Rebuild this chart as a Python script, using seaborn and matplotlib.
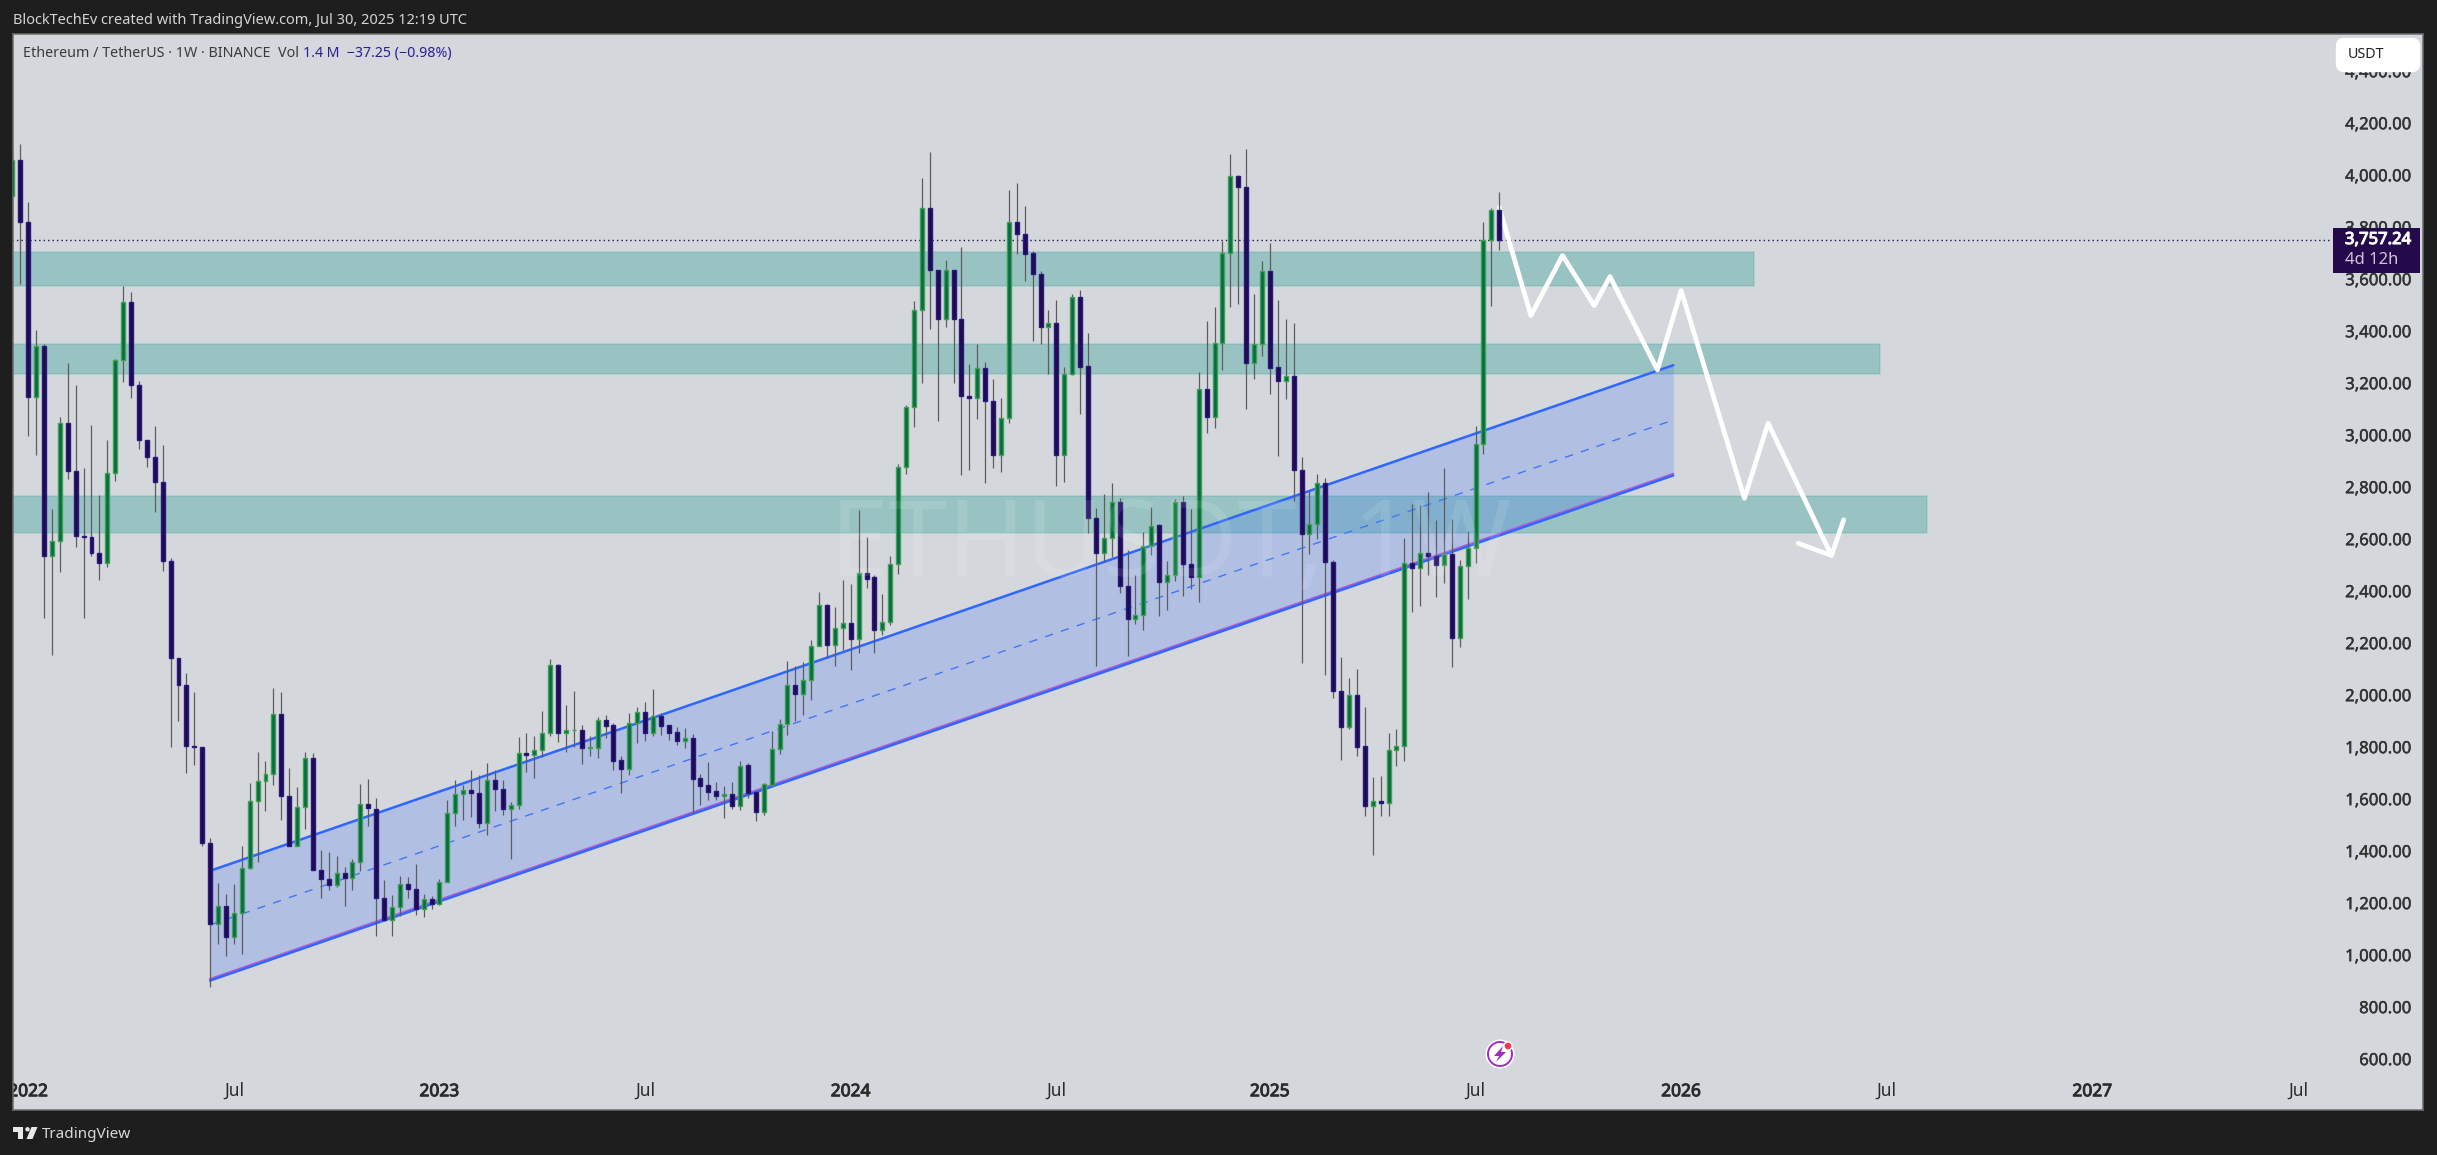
import numpy as np
import pandas as pd
import seaborn as sns
import matplotlib
matplotlib.use("Agg")
import matplotlib.pyplot as plt
import matplotlib.patheffects as pe
from matplotlib.patches import Circle, FancyBboxPatch, Polygon, Rectangle
from matplotlib.transforms import ScaledTranslation

OPENS = [3927,4063,3827,3152,3348,2540,2600,3054,2869,2619,
2615,2551,2516,2862,3295,3520,3200,2986,2920,2825,
2520,2147,2043,1811,1805,1436,1127,1195,1074,1169,
1339,1597,1677,1701,1935,1619,1427,1577,1765,1334,
1297,1275,1323,1303,1365,1588,1568,1224,1142,1191,
1281,1261,1184,1220,1202,1286,1553,1626,1641,1628,
1515,1681,1644,1566,1583,1783,1774,1794,1860,2121,
1862,1870,1871,1801,1804,1910,1890,1756,1720,1897,
1940,1862,1926,1890,1863,1831,1840,1687,1660,1637,
1616,1625,1581,1736,1634,1558,1661,1797,1894,2044,
2012,2063,2194,2352,2197,2263,2283,2220,2474,2460,
2258,2289,2509,2882,3113,3487,3879,3643,3454,3643,
3454,3156,3147,3263,3136,2928,3070,3824,3779,3705,
3624,3421,3437,2931,3242,3537,3271,2689,2554,2612,
2747,2425,2297,2316,2581,2660,2440,2469,2747,2510,
2459,3183,3074,3360,3705,4002,3959,3282,3356,3636,
3267,3213,3233,2871,2627,2664,2822,2517,2021,1885,
2005,1809,1581,1598,1590,1793,1809,2513,2496,2552,
2540,2508,2548,2227,2502,2571,2971,3756,3871]

CLOSES = [4063,3827,3152,3348,2540,2600,3054,2869,2619,2615,
2551,2516,2862,3295,3520,3200,2986,2920,2825,2520,
2147,2043,1811,1805,1436,1127,1195,1074,1169,1339,
1597,1677,1701,1935,1619,1427,1577,1765,1334,1297,
1275,1323,1303,1365,1588,1571,1224,1142,1191,1279,
1261,1184,1220,1202,1286,1553,1626,1641,1628,1515,
1681,1643,1566,1583,1783,1774,1794,1860,2121,1862,
1871,1872,1801,1806,1910,1889,1754,1720,1897,1940,
1862,1924,1889,1862,1831,1840,1685,1658,1635,1616,
1625,1581,1735,1630,1558,1663,1797,1894,2044,2012,
2063,2194,2352,2197,2263,2283,2220,2474,2454,2258,
2289,2510,2882,3113,3487,3879,3643,3454,3643,3454,
3155,3147,3263,3136,2928,3070,3824,3779,3704,3624,
3421,3437,2931,3242,3537,3269,2689,2554,2612,2747,
2424,2297,2316,2581,2658,2440,2469,2747,2509,2459,
3182,3074,3360,3705,4002,3959,3282,3356,3636,3265,
3213,3233,2871,2627,2664,2822,2517,2020,1885,2005,
1808,1581,1598,1589,1793,1809,2513,2496,2552,2540,
2508,2548,2227,2502,2571,2971,3756,3871,3757.24]

HIGHS = [4120,4125,3902,3410,3357,2721,3076,3284,3198,2880,
3046,2776,2986,3299,3578,3556,3213,2986,3041,2968,
2533,2147,2092,2017,1807,1458,1284,1242,1279,1425,
1668,1787,1752,2032,2017,1725,1652,1789,1783,1409,
1403,1387,1343,1374,1663,1683,1610,1295,1237,1310,
1306,1356,1242,1235,1299,1602,1679,1661,1718,1699,
1745,1718,1680,1594,1845,1861,1849,1945,2145,2126,
1969,2022,1892,1849,1922,1930,1898,1772,1937,1961,
1980,2030,1937,1890,1883,1880,1857,1703,1749,1672,
1657,1672,1752,1745,1634,1669,1867,1915,2138,2119,
2133,2219,2403,2356,2345,2449,2434,2719,2615,2467,
2395,2542,2896,3121,3522,3995,4095,3643,3680,3643,
3728,3280,3357,3288,3222,3149,3949,3976,3887,3713,
3636,3488,3526,3268,3549,3565,3399,2726,2780,2822,
2764,2565,2467,2633,2730,2665,2521,2761,2772,2723,
3249,3445,3499,3751,4088,4007,4107,3549,3677,3746,
3526,3453,3438,2923,2793,2857,2840,2526,2153,2072,
2107,1961,1691,1695,1861,1876,2611,2741,2737,2787,
2680,2880,2684,2526,2637,3041,3826,3879,3941]

LOWS = [3850,3589,3004,2931,2304,2162,2478,2838,2577,2304,
2540,2447,2500,2831,3211,3147,2953,2884,2710,2485,
1805,1906,1705,1736,1425,884,1047,1001,1047,1012,
1337,1363,1562,1659,1526,1425,1425,1491,1332,1224,
1257,1266,1193,1257,1328,1504,1078,1138,1078,1156,
1224,1160,1153,1182,1197,1286,1504,1524,1537,1493,
1467,1562,1545,1374,1569,1711,1688,1766,1849,1826,
1789,1807,1742,1772,1765,1842,1719,1630,1699,1820,
1831,1849,1853,1834,1815,1803,1554,1584,1603,1603,
1535,1569,1565,1612,1522,1545,1661,1780,1853,1906,
1930,1988,2193,2147,2119,2179,2103,2169,2419,2169,
2238,2274,2473,2858,3037,3205,3416,3059,3423,3205,
2854,2870,3068,2820,2880,2866,3051,3704,3600,3367,
3357,3242,2812,2827,3236,3089,2631,2116,2518,2538,
2397,2157,2278,2255,2544,2312,2335,2446,2386,2416,
2363,3016,3032,3255,3500,3512,3105,3220,3309,3163,
2924,3145,2754,2128,2550,2607,2082,1993,1757,1877,
1770,1541,1389,1541,1541,1734,1753,2326,2349,2468,
2384,2437,2114,2191,2376,2516,2934,3504,3720]

PRICE_TICKS = [600,800,1000,1200,1400,1600,1800,2000,2200,2400,2600,2800,3000,3200,3400,3600,3800,4000,4200,4400]
PRICE_LABELS = ["600.00","800.00","1,000.00","1,200.00","1,400.00","1,600.00","1,800.00","2,000.00","2,200.00",
                "2,400.00","2,600.00","2,800.00","3,000.00","3,200.00","3,400.00","3,600.00","3,800.00",
                "4,000.00","4,200.00","4,400.00"]
WEEK_TICKS = [2,28,54,80,106,132,159,185,211,237,263,289]
WEEK_LABELS = ["2022","Jul","2023","Jul","2024","Jul","2025","Jul","2026","Jul","2027","Jul"]

ZONE_LOW = [3581,3242,2631]
ZONE_HIGH = [3711,3357,2773]
ZONE_END = [220.2,236.1,242.1]

CHANNEL_WEEKS = [25,210]
CHANNEL_TOP = [1330,3275]
CHANNEL_MID = [1122,3064]
CHANNEL_BOTTOM = [908,2851]
CHANNEL_BOTTOM_2 = [914,2857]

PATH_WEEKS = [188,192,196,200,202,208,211,219,222,230]
PATH_PRICES = [3882,3466,3697,3504,3616,3257,3562,2763,3052,2543]
HEAD_WEEKS = [225.8,230,231.55]
HEAD_PRICES = [2590,2543,2680]
LAST_PRICE = 3757.24

W, H = 2437, 1155
PANE = "#d4d7dc"
DARK = "#1e1e1e"
sns.set_theme(style="white", rc={"font.family": "Noto Sans", "figure.facecolor": DARK, "axes.facecolor": PANE})

fig = plt.figure(figsize=(W/100, H/100), dpi=100, facecolor=DARK)
L, R, T, B = 13, 2423, 34, 1110
ax = fig.add_axes([L/W, 1-B/H, (R-L)/W, (B-T)/H])
ax.set_facecolor(PANE)

df = pd.DataFrame({"week": np.arange(len(OPENS)), "open": OPENS, "close": CLOSES, "high": HIGHS, "low": LOWS})
up = df[df.close >= df.open]
down = df[df.close < df.open]

# zones
for lo, hi, end in zip(ZONE_LOW, ZONE_HIGH, ZONE_END):
    ax.fill_between([0, end], lo, hi, facecolor="#1f9a8c", alpha=0.32, linewidth=0, zorder=1)
    ax.plot([0, end, end, 0], [hi, hi, lo, lo], color="#1f9a8c", alpha=0.18, lw=1.2, zorder=1)

# channel
ax.fill_between(CHANNEL_WEEKS, CHANNEL_BOTTOM_2, CHANNEL_TOP, facecolor="#2962ff", alpha=0.2, linewidth=0, zorder=1.5)
sns.lineplot(x=CHANNEL_WEEKS, y=CHANNEL_BOTTOM_2, color="#b45fd0", lw=1.6, ax=ax, zorder=1.6)
sns.lineplot(x=CHANNEL_WEEKS, y=CHANNEL_BOTTOM, color="#3366ff", lw=1.8, ax=ax, zorder=1.7)
sns.lineplot(x=CHANNEL_WEEKS, y=CHANNEL_TOP, color="#2f66ff", lw=1.8, ax=ax, zorder=1.7)
sns.lineplot(x=CHANNEL_WEEKS, y=CHANNEL_MID, color="#3f78f5", lw=1.0, ax=ax, zorder=1.7, linestyle=(0, (6, 6)))

# last price line
ax.plot([0, 293], [LAST_PRICE, LAST_PRICE], color="#22104f", lw=1.0, ls=(0, (1, 2.2)), zorder=1.8)

# projected path
sns.lineplot(x=PATH_WEEKS, y=PATH_PRICES, sort=False, estimator=None, color="white", lw=3.4, ax=ax, zorder=2,
             solid_joinstyle="round", solid_capstyle="round")
sns.lineplot(x=HEAD_WEEKS, y=HEAD_PRICES, sort=False, estimator=None, color="white", lw=3.4, ax=ax, zorder=2,
             solid_joinstyle="round", solid_capstyle="round")

# candles
ax.vlines(df.week, df.low, df.high, color="#5d5d5d", lw=0.9, zorder=3)
ax.bar(up.week, up.close-up.open, bottom=up.open, width=0.5, color="#07694a", edgecolor="#3fa34d", linewidth=1.0, zorder=4)
ax.bar(down.week, down.close-down.open, bottom=down.open, width=0.5, color="#200a4e", edgecolor="#2b1a80", linewidth=1.0, zorder=4)

ax.set_xlim(0.076, 304.8)
ax.set_ylim(410, 4549)
ax.set_xlabel(""); ax.set_ylabel("")
ax.yaxis.tick_right()
ax.set_yticks(PRICE_TICKS, PRICE_LABELS)
ax.set_xticks(WEEK_TICKS, WEEK_LABELS)
ax.tick_params(axis="y", length=0, pad=-8, labelsize=12, labelcolor="#333333", right=False, left=False)
ax.tick_params(axis="x", length=0, pad=-20, labelsize=12.5, labelcolor="#2b2b2b", bottom=False)
lift = ScaledTranslation(0, 1.5/100, fig.dpi_scale_trans)
for lab in ax.get_yticklabels():
    lab.set_ha("right")
    lab.set_transform(lab.get_transform() + lift)
    lab.set_path_effects([pe.withStroke(linewidth=0.35, foreground="#333333")])
for lab in ax.get_xticklabels():
    if lab.get_text() != "Jul":
        lab.set_path_effects([pe.withStroke(linewidth=0.7, foreground="#2b2b2b")])
    lab.set_clip_box(ax.bbox)
    lab.set_clip_on(True)
for s in ax.spines.values():
    s.set_color("#6b6b6b"); s.set_linewidth(1.1); s.set_visible(True)
ax.grid(False)

# interface overlay in figure pixels
ui = fig.add_axes([0, 0, 1, 1], facecolor="none")
ui.set_xlim(0, W); ui.set_ylim(H, 0); ui.axis("off")
ui.text(13, 20, "BlockTechEv created with TradingView.com, Jul 30, 2025 12:19 UTC", color="#d4d4d4", fontsize=10.5, va="center")
ui.text(23, 53.5, "Ethereum / TetherUS · 1W · BINANCE  Vol", color="#3a3a3a", fontsize=10.3, va="center")
ui.text(303, 53.5, "1.4 M  −37.25 (−0.98%)", color="#2a1f96", fontsize=10.2, va="center")
ui.text(1170, 548, "ETHUSDT, 1W", color="white", alpha=0.10, fontsize=76, ha="center", va="center")
ui.add_patch(FancyBboxPatch((2340, 42), 76, 26, boxstyle="round,pad=0,rounding_size=4", fc="white", ec="white", lw=6))
ui.text(2348, 55, "USDT", color="#222222", fontsize=10.3, va="center")
ui.add_patch(Rectangle((2333, 228), 86.5, 45, fc="#240a4a", ec="none"))
ui.text(2345, 240, "3,757.24", color="white", fontsize=12, va="center",
        path_effects=[pe.withStroke(linewidth=0.8, foreground="white")])
ui.text(2345, 260, "4d 12h", color="#cfc4dc", fontsize=12, va="center")
# logo
ui.add_patch(Polygon([(13,1127),(23,1127),(23,1139),(18,1139),(18,1132),(13,1132)], fc="#e8e8e8", ec="none"))
ui.add_patch(Circle((27.5,1129.3), 2.2, fc="#e8e8e8", ec="none"))
ui.add_patch(Polygon([(31.5,1127),(37.5,1127),(32.5,1139),(26.5,1139)], fc="#e8e8e8", ec="none"))
ui.text(42, 1134, "TradingView", color="#d8d8d8", fontsize=11, va="center")
# bolt
ui.add_patch(Circle((1500,1054), 14.5, fc="white", ec="none"))
ui.add_patch(Circle((1500,1054), 12, fc="none", ec="#a12cc0", lw=1.4))
ui.add_patch(Polygon([(1503,1046),(1494,1056),(1499,1056),(1496,1062),(1506,1052),(1501,1052)], fc="#a12cc0", ec="none"))
ui.add_patch(Circle((1508,1046), 4.8, fc="white", ec="none"))
ui.add_patch(Circle((1508,1046), 3.3, fc="#f23645", ec="none"))

fig.savefig("out.png", dpi=100, facecolor=DARK)
